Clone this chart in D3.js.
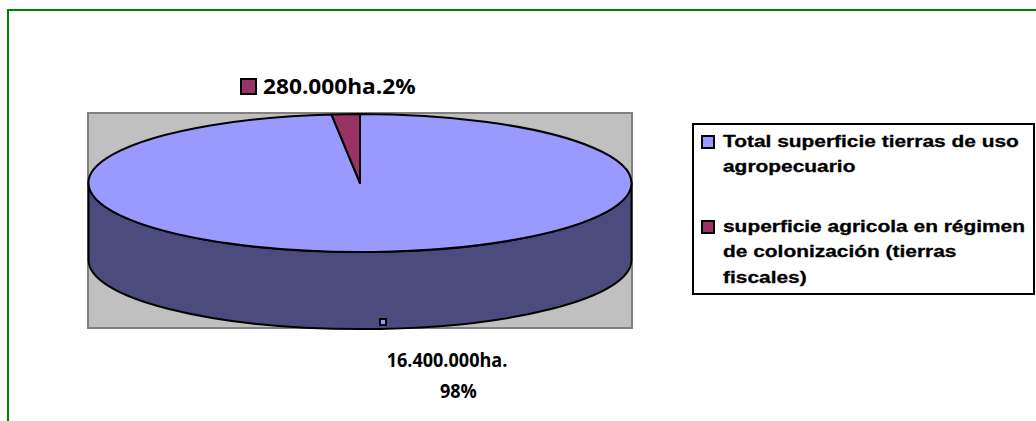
<!DOCTYPE html>
<html>
<head>
<meta charset="utf-8">
<script src="https://cdn.jsdelivr.net/npm/d3@7"></script>
<style>
  body { margin: 0; background: #fff; }
  svg { display: block; }
</style>
</head>
<body>
<div id="chart"></div>
<script>
// data
const categories = ["Total superficie tierras de uso agropecuario", "superficie agricola en régimen de colonización (tierras fiscales)"];
const hectares = [16400000, 280000];
const legendLines = [
  ["Total superficie tierras de uso", "agropecuario"],
  ["superficie agricola en régimen", "de colonización (tierras", "fiscales)"]
];
const topColors = ["#9999ff", "#993366"];
const sideColors = ["#4b4b7e", "#5c1f3d"];

const W = 1036, H = 421;
const plot = { x: 88, y: 113, w: 544, h: 215 };
const cx = 360, cy = 183, rx = 271.5, ry = 69, depth = 77;

const locale = d3.formatLocale({ decimal: ",", thousands: ".", grouping: [3], currency: ["", ""] });
const fmtHa = locale.format(",");
const fmtPct = d3.format(".0%");
const total = d3.sum(hectares);

const svg = d3.select("#chart").append("svg")
  .attr("width", W)
  .attr("height", H);

// outer green frame (runs off right and bottom)
svg.append("rect")
  .attr("x", 8).attr("y", 10)
  .attr("width", W + 20).attr("height", H + 20)
  .attr("fill", "none")
  .attr("stroke", "#008000")
  .attr("stroke-width", 2);

// plot area
svg.append("rect")
  .attr("x", plot.x).attr("y", plot.y)
  .attr("width", plot.w).attr("height", plot.h)
  .attr("fill", "#c0c0c0")
  .attr("stroke", "#808080")
  .attr("stroke-width", 2);

const pie = d3.pie().sort(null).value(d => d);
const arcs = pie(hectares);

const pt = (a, dy = 0) => [cx + rx * Math.sin(a), cy - ry * Math.cos(a) + dy];

const g = svg.append("g")
  .attr("stroke", "#000")
  .attr("stroke-width", 2)
  .attr("stroke-linejoin", "round");

// front sides
arcs.forEach((d, i) => {
  const a0 = Math.max(d.startAngle, Math.PI / 2);
  const a1 = Math.min(d.endAngle, 3 * Math.PI / 2);
  if (a1 <= a0) return;
  const p0 = pt(a0), p1 = pt(a1), q1 = pt(a1, depth), q0 = pt(a0, depth);
  g.append("path")
    .attr("fill", sideColors[i])
    .attr("d", `M${p0}A${rx},${ry} 0 0 1 ${p1}L${q1}A${rx},${ry} 0 0 0 ${q0}Z`);
});

// top faces
arcs.forEach((d, i) => {
  const p0 = pt(d.startAngle), p1 = pt(d.endAngle);
  const large = d.endAngle - d.startAngle > Math.PI ? 1 : 0;
  g.append("path")
    .attr("fill", topColors[i])
    .attr("d", `M${cx},${cy}L${p0}A${rx},${ry} 0 ${large} 1 ${p1}Z`);
});

// data labels
const labelFont = "'Open Sans', 'Lato', sans-serif";

// big slice label below the pie, its key stuck on the pie edge
svg.append("rect")
  .attr("x", 380).attr("y", 319)
  .attr("width", 6).attr("height", 6)
  .attr("fill", topColors[0])
  .attr("stroke", "#000")
  .attr("stroke-width", 2);

const bigLbl = svg.append("text")
  .attr("transform", "translate(447,0) scale(0.95,1)")
  .attr("font-family", labelFont)
  .attr("font-weight", "bold")
  .attr("font-size", 19)
  .attr("text-anchor", "middle")
  .attr("fill", "#000");
bigLbl.append("tspan").attr("x", 0).attr("y", 367).text(fmtHa(hectares[0]) + "ha.");
bigLbl.append("tspan").attr("x", 12).attr("y", 398).text(fmtPct(hectares[0] / total));

// small slice label above
svg.append("rect")
  .attr("x", 241).attr("y", 79)
  .attr("width", 15).attr("height", 15)
  .attr("fill", topColors[1])
  .attr("stroke", "#000")
  .attr("stroke-width", 2);

svg.append("text")
  .attr("transform", "translate(263,94) scale(1.08,1)")
  .attr("font-family", labelFont)
  .attr("font-weight", "bold")
  .attr("font-size", 21)
  .attr("fill", "#000")
  .text(fmtHa(hectares[1]) + "ha." + fmtPct(hectares[1] / total));

// legend
const legend = svg.append("g");
legend.append("rect")
  .attr("x", 693).attr("y", 124)
  .attr("width", 341).attr("height", 170)
  .attr("fill", "#fff")
  .attr("stroke", "#000")
  .attr("stroke-width", 2);

const itemTop = [135, 220];
categories.forEach((c, i) => {
  legend.append("rect")
    .attr("x", 702).attr("y", itemTop[i] + 1)
    .attr("width", 12).attr("height", 12)
    .attr("fill", topColors[i])
    .attr("stroke", "#000")
    .attr("stroke-width", 2);
  const t = legend.append("text")
    .attr("transform", `translate(723,${itemTop[i] + 12}) scale(1.23,1)`)
    .attr("font-family", "'Liberation Sans', Arial, sans-serif")
    .attr("font-weight", "bold")
    .attr("font-size", 17)
    .attr("fill", "#000")
    .attr("stroke", "#000")
    .attr("stroke-width", 0.3);
  legendLines[i].forEach((line, j) => {
    t.append("tspan")
      .attr("x", 0)
      .attr("y", j * 25.5)
      .text(line);
  });
});
</script>
</body>
</html>
